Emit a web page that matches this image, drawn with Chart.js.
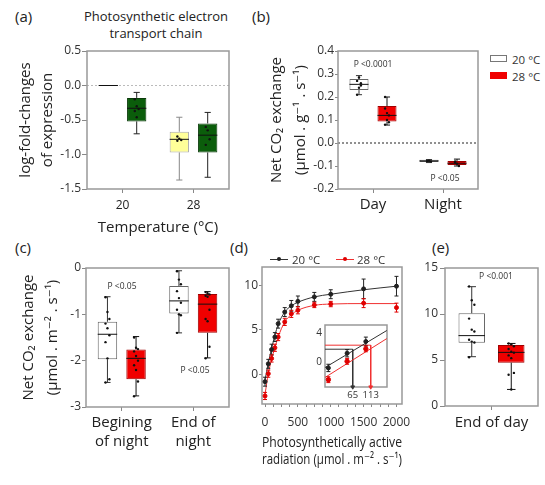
<!DOCTYPE html>
<html>
<head>
<meta charset="utf-8">
<script src="https://cdn.jsdelivr.net/npm/chart.js@4.4.1/dist/chart.umd.min.js"></script>
<style>
  body { margin: 0; background: #fff; }
  #page { position: relative; width: 545px; height: 485px; overflow: hidden; font-family: "Open Sans", "DejaVu Sans", sans-serif; color: #222; }
  .panel { position: absolute; }
  .l { position: absolute; transform: translateY(-50%); white-space: nowrap; }
  .c { position: absolute; transform: translate(-50%, -50%); white-space: nowrap; text-align: center; }
  .letter { font-size: 15px; }
  .pval { font-size: 8.5px; color: #333; }
  .leg { font-size: 11.5px; color: #333; }
  .sw { position: absolute; box-sizing: border-box; }
</style>
</head>
<body>
<div id="page">
  <div class="l letter" style="left:15px;top:16px">(a)</div>
  <div class="l letter" style="left:252px;top:16px">(b)</div>
  <div class="l letter" style="left:15px;top:247px">(c)</div>
  <div class="l letter" style="left:230px;top:247px">(d)</div>
  <div class="l letter" style="left:432px;top:247px">(e)</div>
  <div class="c" style="left:156px;top:25px;font-size:13px;line-height:17px">Photosynthetic electron<br>transport chain</div>

  <div class="panel" style="left:0;top:40px;width:235px;height:200px"><canvas id="chart-a"></canvas></div>
  <div class="panel" style="left:240px;top:40px;width:250px;height:200px"><canvas id="chart-b"></canvas></div>
  <div class="panel" style="left:0;top:240px;width:235px;height:230px"><canvas id="chart-c"></canvas></div>
  <div class="panel" style="left:215px;top:240px;width:215px;height:230px"><canvas id="chart-d"></canvas></div>
  <div class="panel" style="left:410px;top:240px;width:135px;height:230px"><canvas id="chart-e"></canvas></div>
  <div class="panel" style="left:295px;top:305px;width:100px;height:100px"><canvas id="chart-inset"></canvas></div>

  <!-- legend (b) -->
  <div class="sw" style="left:490px;top:55px;width:17px;height:7px;border:1px solid #777;background:#fff"></div>
  <div class="l leg" style="left:512px;top:59px">20 °C</div>
  <div class="sw" style="left:490px;top:72px;width:17px;height:7px;background:#f00000"></div>
  <div class="l leg" style="left:512px;top:76px">28 °C</div>

  <!-- legend (d) -->
  <div class="sw" style="left:270px;top:259px;width:18px;height:1px;background:#333"></div>
  <div class="sw" style="left:277px;top:257px;width:4px;height:4px;border-radius:2px;background:#222"></div>
  <div class="l leg" style="left:292px;top:259px">20 °C</div>
  <div class="sw" style="left:336px;top:259px;width:18px;height:1px;background:#f03030"></div>
  <div class="sw" style="left:343px;top:257px;width:4px;height:4px;border-radius:2px;background:#e00000"></div>
  <div class="l leg" style="left:357px;top:259px">28 °C</div>

  <!-- p values -->
  <div class="c pval" style="left:373px;top:63px">P &lt;0.0001</div>
  <div class="c pval" style="left:445px;top:177px">P &lt;0.05</div>
  <div class="c pval" style="left:122px;top:285px">P &lt;0.05</div>
  <div class="c pval" style="left:195px;top:369px">P &lt;0.05</div>
  <div class="c pval" style="left:496px;top:275px">P &lt;0.001</div>
</div>

<script>
// boxes are [min, q1, median, q3, max]

// (a) expression
const aCategories = ["20", "28"]
const aTicks = [-1.5, -1, -0.5, 0, 0.5]
const aBoxFirst = [[0, 0, 0, 0, 0], [-1.37, -0.97, -0.78, -0.67, -0.46]]
const aBoxSecond = [[-0.70, -0.52, -0.33, -0.18, -0.10], [-1.33, -0.97, -0.72, -0.55, -0.39]]
const aDotsFirst = [[], [-0.74, -0.77, -0.79, -0.8]]
const aDotsSecond = [[-0.2, -0.3, -0.34, -0.37, -0.46], [-0.6, -0.65, -0.78, -0.86]]

// (b) net CO2 exchange per g
const bCategories = ["Day", "Night"]
const bTicks = [-0.2, -0.1, 0, 0.1, 0.2, 0.3, 0.4]
const bBox20 = [[0.21, 0.23, 0.255, 0.278, 0.293], [-0.085, -0.083, -0.078, -0.073, -0.072]]
const bBox28 = [[0.078, 0.093, 0.12, 0.161, 0.20], [-0.10, -0.096, -0.088, -0.078, -0.07]]
const bDots20 = [[0.21, 0.24, 0.25, 0.27, 0.285, 0.26], [-0.078, -0.077, -0.08]]
const bDots28 = [[0.08, 0.1, 0.12, 0.15, 0.13, 0.09, 0.2], [-0.085, -0.09, -0.1, -0.08]]

// (c) net CO2 exchange per m2, night
const cCategories = [["Begining", "of night"], ["End of", "night"]]
const cTicks = [-3, -2, -1, 0]
const cBox20 = [[-2.47, -1.97, -1.43, -1.16, -0.62], [-1.40, -0.98, -0.71, -0.39, -0.06]]
const cBox28 = [[-2.76, -2.40, -1.95, -1.76, -1.48], [-1.94, -1.40, -0.78, -0.56, -0.51]]
const cDots20 = [[-0.63, -0.95, -1.1, -1.2, -1.3, -1.45, -1.6, -1.95, -2.4, -2.47], [-0.07, -0.25, -0.35, -0.5, -0.65, -0.75, -0.9, -1.0, -1.02, -1.4]]
const cDots28 = [[-1.5, -1.72, -1.75, -1.8, -1.9, -2.0, -2.1, -2.2, -2.45, -2.77], [-0.52, -0.55, -0.57, -0.6, -0.62, -0.9, -1.1, -1.15, -1.7, -1.95]]

// (d) light response
const dPar = [0, 50, 100, 150, 200, 300, 400, 500, 750, 1000, 1500, 2000]
const d20Mean = [-0.8, 1.2, 2.8, 4.2, 5.7, 7.0, 7.7, 8.2, 8.7, 9.0, 9.6, 9.9]
const d20Err = [0.5, 0.5, 0.6, 0.5, 0.5, 0.5, 0.6, 0.6, 0.5, 0.5, 1.1, 1.1]
const d28Mean = [-2.4, 0.1, 1.8, 3.0, 4.2, 5.9, 6.8, 7.2, 7.8, 7.9, 8.0, 7.5]
const d28Err = [0.4, 0.4, 0.4, 0.4, 0.4, 0.4, 0.4, 0.4, 0.3, 0.3, 0.5, 0.5]
const d20Fit = [-0.6, 1.3, 2.9, 4.4, 5.6, 7.0, 7.7, 8.1, 8.7, 9.0, 9.5, 9.9]
const d28Fit = [-2.2, 0.1, 1.7, 3.0, 4.2, 5.9, 6.7, 7.2, 7.75, 7.9, 7.95, 7.95]
const dXTicks = [0, 125, 250, 375, 500, 625, 750, 875, 1000, 1125, 1250, 1375, 1500, 1625, 1750, 1875, 2000]
const dXLabels = [0, 500, 1000, 1500, 2000]
const dYTicks = [0, 5, 10]

// (d) inset, low light
const insetXTicks = [65, 113]
const insetYTicks = [0, 4]
const insetFitX = [-9, 156]
const inset20Fit = [-0.75, 4.3]
const inset28Fit = [-2.1, 3.2]
const insetCross20 = [65, 1.75]
const insetCross28 = [113, 2.3]

// (e) end of day
const eCategories = ["End of day"]
const eTicks = [0, 5, 10, 15]
const eBox20 = [[5.36, 6.88, 7.65, 10.08, 12.97]]
const eBox28 = [[1.8, 4.71, 5.83, 6.63, 6.8]]
const eDots20 = [[13, 11.5, 11, 9.5, 8.3, 8.1, 7.2, 7.0, 6.9, 5.3]]
const eDots28 = [[6.8, 6.7, 6.5, 6.2, 5.9, 5.8, 5.5, 5.2, 3.6, 3.4, 1.8]]

const FONT = "'Open Sans', 'DejaVu Sans', sans-serif"
const frameColor = "#999"
const tickColor = "#888"

// grey frame round the plot area, optional dotted zero line
const framePlugin = {
  id: "frame",
  beforeDatasetsDraw(chart, args, opts) {
    const { ctx, chartArea: a } = chart
    ctx.save()
    if (opts.fill) {
      ctx.fillStyle = opts.fill
      ctx.fillRect(a.left, a.top, a.right - a.left, a.bottom - a.top)
    }
    if (opts.zeroColor) {
      const y0 = chart.scales.y.getPixelForValue(0)
      ctx.strokeStyle = opts.zeroColor
      ctx.lineWidth = 1
      ctx.setLineDash([2, 2])
      ctx.beginPath()
      ctx.moveTo(a.left, y0)
      ctx.lineTo(a.right, y0)
      ctx.stroke()
      ctx.setLineDash([])
    }
    ctx.strokeStyle = frameColor
    ctx.lineWidth = 1.5
    ctx.strokeRect(a.left, a.top, a.right - a.left, a.bottom - a.top)
    ctx.restore()
  },
}

// whiskers, median and points on top of the floating bars
const boxPlugin = {
  id: "boxes",
  afterDatasetsDraw(chart) {
    const { ctx } = chart
    const y = chart.scales.y
    chart.data.datasets.forEach((ds, di) => {
      if (!ds.stats) return
      const meta = chart.getDatasetMeta(di)
      meta.data.forEach((bar, i) => {
        const [lo, q1, med, q3, hi] = ds.stats[i]
        const x = bar.x
        const half = bar.width / 2
        const cap = bar.width * 0.16
        const wc = Array.isArray(ds.whiskerColor) ? ds.whiskerColor[i] : ds.whiskerColor
        ctx.save()
        ctx.lineWidth = 1
        ctx.strokeStyle = wc
        ctx.beginPath()
        ctx.moveTo(x, y.getPixelForValue(q3))
        ctx.lineTo(x, y.getPixelForValue(hi))
        ctx.moveTo(x, y.getPixelForValue(q1))
        ctx.lineTo(x, y.getPixelForValue(lo))
        ctx.moveTo(x - cap, y.getPixelForValue(hi))
        ctx.lineTo(x + cap, y.getPixelForValue(hi))
        ctx.moveTo(x - cap, y.getPixelForValue(lo))
        ctx.lineTo(x + cap, y.getPixelForValue(lo))
        ctx.stroke()
        ctx.strokeStyle = "#111"
        ctx.beginPath()
        ctx.moveTo(x - half, y.getPixelForValue(med))
        ctx.lineTo(x + half, y.getPixelForValue(med))
        ctx.stroke()
        ctx.fillStyle = "#111"
        ;(ds.dots[i] || []).forEach((v, j) => {
          const dx = ((j % 3) - 1) * bar.width * 0.1
          ctx.beginPath()
          ctx.arc(x + dx, y.getPixelForValue(v), 1.2, 0, Math.PI * 2)
          ctx.fill()
        })
        ctx.restore()
      })
    })
  },
}

// vertical error bars for the light response points
const errorBarPlugin = {
  id: "errorBars",
  afterDatasetsDraw(chart) {
    const { ctx } = chart
    const ys = chart.scales.y
    chart.data.datasets.forEach((ds, di) => {
      if (!ds.errors) return
      const meta = chart.getDatasetMeta(di)
      ctx.save()
      ctx.strokeStyle = ds.borderColor
      ctx.lineWidth = 1
      meta.data.forEach((pt, i) => {
        const v = ds.data[i].y
        const e = ds.errors[i]
        const top = ys.getPixelForValue(v + e)
        const bot = ys.getPixelForValue(v - e)
        ctx.beginPath()
        ctx.moveTo(pt.x, top)
        ctx.lineTo(pt.x, bot)
        ctx.moveTo(pt.x - 2, top)
        ctx.lineTo(pt.x + 2, top)
        ctx.moveTo(pt.x - 2, bot)
        ctx.lineTo(pt.x + 2, bot)
        ctx.stroke()
      })
      ctx.restore()
    })
  },
}

function yAxis({ min, max, ticks, fmt, width, tickLength, pad, title, titleLineHeight, titlePad }) {
  return {
    min,
    max,
    afterBuildTicks: (s) => { s.ticks = ticks.map((v) => ({ value: v })) },
    afterFit: (s) => { s.width = width },
    border: { display: false },
    grid: { drawOnChartArea: false, tickLength, tickColor, tickWidth: 1 },
    ticks: { font: { family: FONT, size: 12 }, color: "#333", padding: pad, callback: fmt || ((v) => String(v)) },
    title: title
      ? { display: true, text: title, color: "#222", font: { family: FONT, size: 15, lineHeight: titleLineHeight }, padding: { top: titlePad, bottom: 0 } }
      : { display: false },
  }
}

function catAxis({ height, size, lineHeight, pad, title, titlePad }) {
  return {
    afterFit: (s) => { s.height = height },
    border: { display: false },
    grid: { offset: false, drawOnChartArea: false, tickLength: 4, tickColor, tickWidth: 1 },
    ticks: { font: { family: FONT, size, lineHeight }, color: "#222", padding: pad, maxRotation: 0, autoSkip: false },
    title: title
      ? { display: true, text: title, color: "#222", font: { family: FONT, size: 15, lineHeight: 1.2 }, padding: { top: 0, bottom: titlePad } }
      : { display: false },
  }
}

function boxDataset(stats, dots, fill, border, whisker, catPct, barPct) {
  return {
    data: stats.map((s) => [s[1], s[3]]),
    stats,
    dots,
    backgroundColor: fill,
    borderColor: border,
    borderWidth: 1,
    borderSkipped: false,
    whiskerColor: whisker,
    categoryPercentage: catPct,
    barPercentage: barPct,
  }
}

function baseOptions(padding, scales, pluginOpts) {
  return {
    responsive: true,
    maintainAspectRatio: false,
    animation: false,
    events: [],
    layout: { autoPadding: false, padding },
    plugins: Object.assign({ legend: { display: false }, tooltip: { enabled: false } }, pluginOpts || {}),
    scales,
  }
}

const fmt1 = (v) => v.toFixed(1)

// (a)
new Chart(document.getElementById("chart-a"), {
  type: "bar",
  data: {
    labels: aCategories,
    datasets: [
      boxDataset(aBoxFirst, aDotsFirst, ["#ffffff", "#ffff99"], ["#111", "#aaa"], ["#111", "#888"], 0.8, 0.68),
      boxDataset(aBoxSecond, aDotsSecond, "#0b5d0b", "#0a3a0a", "#222", 0.8, 0.68),
    ],
  },
  options: baseOptions(
    { left: 0, top: 11, right: 6, bottom: 0 },
    {
      x: catAxis({ height: 51, size: 12, lineHeight: 1.2, pad: 5, title: "Temperature (°C)", titlePad: 3 }),
      y: yAxis({ min: -1.5, max: 0.5, ticks: aTicks, fmt: fmt1, width: 87, tickLength: 5, pad: 1,
        title: ["log-fold-changes", "of expression"], titleLineHeight: 1.45, titlePad: 15 }),
    },
    { frame: { zeroColor: "#bbb" } }
  ),
  plugins: [framePlugin, boxPlugin],
})

// (b)
new Chart(document.getElementById("chart-b"), {
  type: "bar",
  data: {
    labels: bCategories,
    datasets: [
      boxDataset(bBox20, bDots20, "#ffffff", "#666", "#333", 0.8, 0.68),
      boxDataset(bBox28, bDots28, "#f00000", "#a00000", "#111", 0.8, 0.68),
    ],
  },
  options: baseOptions(
    { left: 0, top: 11, right: 12, bottom: 0 },
    {
      x: catAxis({ height: 51, size: 15, lineHeight: 1.2, pad: 3 }),
      y: yAxis({ min: -0.2, max: 0.4, ticks: bTicks, fmt: fmt1, width: 98, tickLength: 3, pad: 1,
        title: ["Net CO₂ exchange", "(µmol . g⁻¹ . s⁻¹)"], titleLineHeight: 1.65, titlePad: 24 }),
    },
    { frame: { zeroColor: "#222" } }
  ),
  plugins: [framePlugin, boxPlugin],
})

// (c)
new Chart(document.getElementById("chart-c"), {
  type: "bar",
  data: {
    labels: cCategories,
    datasets: [
      boxDataset(cBox20, cDots20, "#ffffff", "#666", "#333", 0.8, 0.68),
      boxDataset(cBox28, cDots28, "#f00000", "#a00000", "#111", 0.8, 0.68),
    ],
  },
  options: baseOptions(
    { left: 0, top: 28, right: 6, bottom: 0 },
    {
      x: catAxis({ height: 63, size: 15, lineHeight: 1.27, pad: 2.5 }),
      y: yAxis({ min: -3, max: 0, ticks: cTicks, width: 86, tickLength: 4, pad: 1,
        title: ["Net CO₂ exchange", "(µmol . m⁻² . s⁻¹)"], titleLineHeight: 1.65, titlePad: 16 }),
    }
  ),
  plugins: [framePlugin, boxPlugin],
})

// (d)
const toPoints = (xs, ys) => xs.map((x, i) => ({ x, y: ys[i] }))

new Chart(document.getElementById("chart-d"), {
  type: "scatter",
  data: {
    datasets: [
      { data: toPoints(dPar, d20Mean), errors: d20Err, borderColor: "#222", backgroundColor: "#222", pointRadius: 2 },
      { data: toPoints(dPar, d28Mean), errors: d28Err, borderColor: "#e00000", backgroundColor: "#e00000", pointRadius: 2 },
      { data: toPoints(dPar, d20Fit), showLine: true, borderColor: "#333", borderWidth: 1, pointRadius: 0, cubicInterpolationMode: "monotone" },
      { data: toPoints(dPar, d28Fit), showLine: true, borderColor: "#f03030", borderWidth: 1, pointRadius: 0, cubicInterpolationMode: "monotone" },
    ],
  },
  options: baseOptions(
    { left: 0, top: 27, right: 28, bottom: 0 },
    {
      x: {
        type: "linear",
        min: -46,
        max: 2084,
        afterBuildTicks: (s) => { s.ticks = dXTicks.map((v) => ({ value: v })) },
        afterFit: (s) => { s.height = 66 },
        border: { display: false },
        grid: { drawOnChartArea: false, tickLength: 3, tickColor, tickWidth: 1 },
        ticks: { font: { family: FONT, size: 12 }, color: "#333", padding: 8, maxRotation: 0, autoSkip: false,
          callback: (v) => (dXLabels.includes(v) ? String(v) : "") },
        title: { display: true, text: ["Photosynthetically active", "radiation (µmol . m⁻² . s⁻¹)"], color: "#222",
          font: { family: FONT, size: 14.5, lineHeight: 1.2 }, padding: { top: 0, bottom: 1.5 } },
      },
      y: yAxis({ min: -3.3, max: 12.05, ticks: dYTicks, width: 47, tickLength: 3, pad: 1 }),
    }
  ),
  plugins: [framePlugin, errorBarPlugin],
})

// (d) inset
const insetXMin = -9
const insetYMin = -3.4
const crossLine = (c) => [{ x: insetXMin, y: c[1] }, { x: c[0], y: c[1] }, { x: c[0], y: insetYMin }]

new Chart(document.getElementById("chart-inset"), {
  type: "scatter",
  data: {
    datasets: [
      { data: toPoints(dPar.slice(0, 3), d20Mean.slice(0, 3)), errors: d20Err.slice(0, 3), borderColor: "#222", backgroundColor: "#222", pointRadius: 2 },
      { data: toPoints(dPar.slice(0, 3), d28Mean.slice(0, 3)), errors: d28Err.slice(0, 3), borderColor: "#e00000", backgroundColor: "#e00000", pointRadius: 2.2 },
      { data: toPoints(insetFitX, inset20Fit), showLine: true, borderColor: "#333", borderWidth: 1, pointRadius: 0 },
      { data: toPoints(insetFitX, inset28Fit), showLine: true, borderColor: "#f03030", borderWidth: 1, pointRadius: 0 },
      { data: crossLine(insetCross20), showLine: true, borderColor: "#333", backgroundColor: "#333", borderWidth: 1,
        pointRadius: [0, 0, 2.2], pointStyle: "triangle", rotation: 180, clip: false },
      { data: crossLine(insetCross28), showLine: true, borderColor: "#f03030", backgroundColor: "#f03030", borderWidth: 1,
        pointRadius: [0, 0, 2.2], pointStyle: "triangle", rotation: 180, clip: false },
    ],
  },
  options: baseOptions(
    { left: 0, top: 20, right: 8, bottom: 0 },
    {
      x: {
        type: "linear",
        min: insetXMin,
        max: 156.5,
        afterBuildTicks: (s) => { s.ticks = insetXTicks.map((v) => ({ value: v })) },
        afterFit: (s) => { s.height = 18 },
        border: { display: false },
        grid: { display: false, drawTicks: false },
        ticks: { font: { family: FONT, size: 9.5 }, color: "#333", padding: 3 },
      },
      y: {
        min: insetYMin,
        max: 5.05,
        afterBuildTicks: (s) => { s.ticks = insetYTicks.map((v) => ({ value: v })) },
        afterFit: (s) => { s.width = 30 },
        border: { display: false },
        grid: { display: false, drawTicks: false },
        ticks: { font: { family: FONT, size: 10 }, color: "#333", padding: 3 },
      },
    },
    { frame: { fill: "#ffffff" } }
  ),
  plugins: [framePlugin, errorBarPlugin],
})

// (e)
new Chart(document.getElementById("chart-e"), {
  type: "bar",
  data: {
    labels: eCategories,
    datasets: [
      boxDataset(eBox20, eDots20, "#ffffff", "#666", "#333", 0.85, 0.67),
      boxDataset(eBox28, eDots28, "#f00000", "#a00000", "#111", 0.85, 0.67),
    ],
  },
  options: baseOptions(
    { left: 0, top: 28, right: 7, bottom: 0 },
    {
      x: catAxis({ height: 64, size: 15, lineHeight: 1.2, pad: 4 }),
      y: yAxis({ min: 0, max: 15, ticks: eTicks, width: 35, tickLength: 5, pad: 2 }),
    }
  ),
  plugins: [framePlugin, boxPlugin],
})
</script>
</body>
</html>
